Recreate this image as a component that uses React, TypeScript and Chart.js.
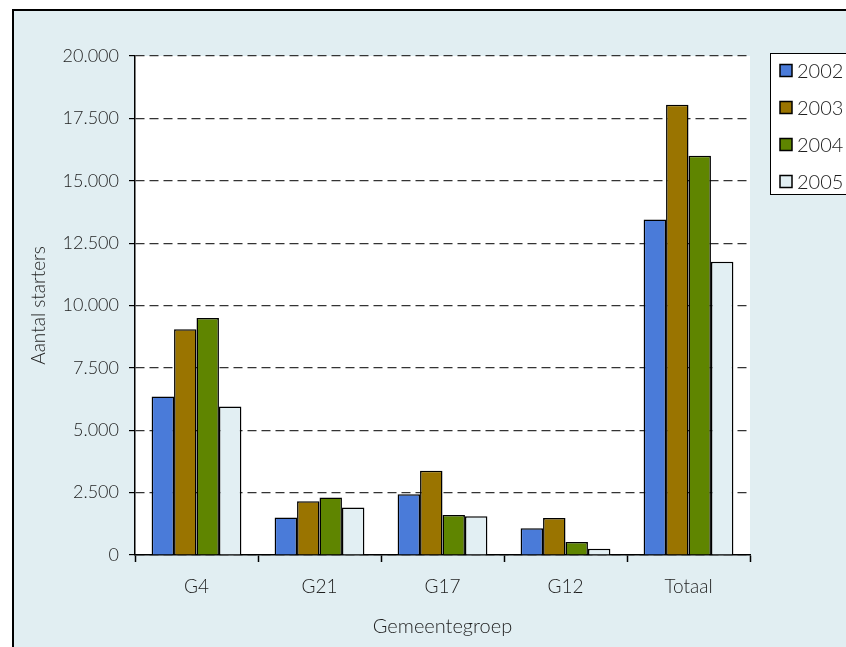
import React, { useEffect, useRef } from "react";
import { Chart, registerables } from "chart.js";

Chart.register(...registerables);

const categories = ["G4", "G21", "G17", "G12", "Totaal"];
const seriesLabels = ["2002", "2003", "2004", "2005"];
const values2002 = [6350, 1500, 2430, 1070, 13450];
const values2003 = [9050, 2150, 3380, 1480, 18050];
const values2004 = [9500, 2300, 1600, 520, 16000];
const values2005 = [5950, 1900, 1550, 250, 11750];
const seriesColors = ["#4a7bd9", "#9a7400", "#5f8500", "#e2eff3"];
const yTicks = [0, 2500, 5000, 7500, 10000, 12500, 15000, 17500, 20000];

const FONT = "Lato, 'Open Sans', sans-serif";
const TEXT = "#1e1e1e";

function fmt(v: number): string {
  const s = Math.round(v).toString();
  return s.replace(/\B(?=(\d{3})+(?!\d))/g, ".");
}

const plotBg = {
  id: "plotBg",
  beforeDraw(chart: any) {
    const { ctx, chartArea } = chart;
    ctx.save();
    ctx.fillStyle = "#ffffff";
    ctx.fillRect(chartArea.left, chartArea.top, chartArea.right - chartArea.left, chartArea.bottom - chartArea.top);
    ctx.restore();
  },
};

const boxLegend = {
  id: "boxLegend",
  afterDraw(chart: any) {
    const { ctx } = chart;
    ctx.save();
    const x0 = 756.5, y0 = 42.5;
    ctx.fillStyle = "#ffffff";
    ctx.fillRect(x0, y0, 200, 141);
    ctx.strokeStyle = "#000";
    ctx.lineWidth = 1;
    ctx.strokeRect(x0, y0, 200, 141);
    chart.data.datasets.forEach((ds: any, i: number) => {
      const cy = 59.5 + i * 37;
      ctx.fillStyle = ds.backgroundColor;
      ctx.fillRect(766, cy - 6, 12, 12);
      ctx.strokeStyle = "#000";
      ctx.lineWidth = 1.5;
      ctx.strokeRect(766, cy - 6, 12, 12);
      ctx.fillStyle = TEXT;
      ctx.font = `300 20px ${FONT}`;
      ctx.textBaseline = "middle";
      ctx.textAlign = "left";
      ctx.fillText(ds.label, 783, cy + 1);
    });
    ctx.restore();
  },
};

export default function App() {
  const ref = useRef<HTMLCanvasElement | null>(null);
  useEffect(() => {
    if (!ref.current) return;
    const all = [values2002, values2003, values2004, values2005];
    const chart = new Chart(ref.current, {
      type: "bar",
      data: {
        labels: categories,
        datasets: seriesLabels.map((l, i) => ({
          label: l,
          data: all[i],
          backgroundColor: seriesColors[i],
          borderColor: "#000",
          borderWidth: 1.5,
          categoryPercentage: 0.73,
          barPercentage: 1.0,
        })),
      },
      options: {
        responsive: false,
        animation: false,
        devicePixelRatio: 1,
        layout: { padding: { top: 45, right: 164, bottom: 56, left: 0 } },
        plugins: {
          legend: { display: false },
          tooltip: { enabled: false },
        },
        scales: {
          x: {
            afterFit: (s: any) => { s.height = 100; },
            grid: {
              display: true,
              drawOnChartArea: false,
              drawTicks: true,
              tickLength: 7,
              tickColor: "#000",
              tickWidth: 1.5,
              offset: true,
            },
            border: { display: true, color: "#000", width: 1.5 },
            ticks: {
              color: TEXT,
              font: { family: FONT, size: 19, weight: "300" as any },
              padding: 13,
            },
            title: {
              display: true,
              text: "Gemeentegroep",
              color: TEXT,
              font: { family: FONT, size: 20, weight: "300" as any },
              padding: { top: 0, bottom: 16 },
            },
          },
          y: {
            min: 0,
            max: 20000,
            afterFit: (s: any) => { s.width = 121; },
            afterBuildTicks: (s: any) => { s.ticks = yTicks.map((v) => ({ value: v })); },
            grid: {
              color: "#333",
              lineWidth: 1.2,
              drawTicks: true,
              tickLength: 6,
              tickColor: "#000",
              tickWidth: 1.2,
              tickBorderDash: [],
            } as any,
            border: { display: true, color: "#000", width: 1.5, dash: [9, 5] },
            ticks: {
              color: TEXT,
              font: { family: FONT, size: 18, weight: "300" as any },
              padding: 10,
              callback: (v: any) => fmt(Number(v)),
            },
            title: {
              display: true,
              text: "Aantal starters",
              color: TEXT,
              font: { family: FONT, size: 19, weight: "300" as any },
              padding: { top: 13, bottom: 0 },
            },
          },
        },
      },
      plugins: [plotBg, boxLegend],
    });
    return () => chart.destroy();
  }, []);
  return (
    <div style={{ position: "absolute", left: 0, top: 0, width: 846, height: 647, overflow: "hidden", background: "#fff" }}>
      <div style={{ position: "absolute", left: 12, top: 9, width: 900, height: 700, border: "2px solid #000", background: "#e1eef2" }}>
        <canvas ref={ref} width={900} height={700} style={{ display: "block", width: 900, height: 700 }} />
      </div>
    </div>
  );
}
